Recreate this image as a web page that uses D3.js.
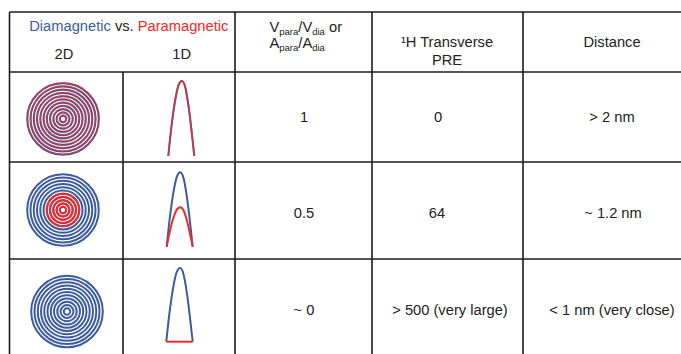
<!DOCTYPE html>
<html>
<head>
<meta charset="utf-8">
<script src="https://cdn.jsdelivr.net/npm/d3@7"></script>
<style>
  html, body { margin: 0; padding: 0; background: #fff; }
  svg { display: block; }
  text { font-family: "Liberation Sans", Arial, sans-serif; fill: #222; }
</style>
</head>
<body>
<script>
// ---------- data ----------
const ratioLabels    = ["1", "0.5", "~ 0"];
const preLabels      = ["0", "64", "> 500 (very large)"];
const distanceLabels = ["> 2 nm", "~ 1.2 nm", "< 1 nm (very close)"];
const paraIntensity  = [1, 0.53, 0];      // paramagnetic peak height relative to diamagnetic
const paraRings      = [11, 5, 0];        // how many inner rings show the paramagnetic (red) signal
const ringCount      = 11;
// 1D peak profile: [position, relative height]
const peakProfile = [[-1, 0], [-0.8, 0.33], [-0.6, 0.6], [-0.4, 0.81], [-0.2, 0.95], [0.05, 1],
                     [0.3, 0.92], [0.5, 0.73], [0.7, 0.47], [0.85, 0.24], [1, 0]];

// ---------- layout ----------
const W = 681, H = 354;
const blue = "#3d5c9e", red = "#ee2a2a", lineCol = "#1c1c1c";
const colX = [9.5, 123, 235, 372, 523];
const rowY = [12, 72, 162, 259];
const rowBottom = 362;
const circleCenters = [[63, 119], [63, 210], [67, 311.5]];
const peakBox = [ {x0: 168.3, x1: 194.3, base: 156, top: 81},
                  {x0: 166.7, x1: 192.7, base: 246.7, top: 172.3},
                  {x0: 166.3, x1: 192.7, base: 341.7, top: 268} ];
const valueY = [121.7, 217.5, 315];
const ratioX = [304, 304, 304];
const preX = [438, 437, 450];
const distX = [612, 613, 612];
const fs = 14.7;

const svg = d3.select("body").append("svg").attr("width", W).attr("height", H);

// ---------- grid ----------
const g = svg.append("g").attr("stroke", lineCol).attr("stroke-width", 1.6);
g.selectAll("line.h").data(rowY).join("line")
  .attr("x1", colX[0]).attr("x2", W).attr("y1", d => d).attr("y2", d => d);
g.append("line").attr("x1", colX[0]).attr("x2", colX[0]).attr("y1", rowY[0]).attr("y2", rowBottom);
g.append("line").attr("x1", colX[1]).attr("x2", colX[1]).attr("y1", rowY[1]).attr("y2", rowBottom);
g.selectAll("line.v").data(colX.slice(2)).join("line")
  .attr("x1", d => d).attr("x2", d => d).attr("y1", rowY[0]).attr("y2", rowBottom);

// ---------- header ----------
const t1 = svg.append("text").attr("x", 128.8).attr("y", 31).attr("text-anchor", "middle").attr("font-size", fs);
t1.append("tspan").style("fill", blue).text("Diamagnetic");
t1.append("tspan").text(" vs. ");
t1.append("tspan").style("fill", red).text("Paramagnetic");

svg.append("text").attr("x", 64).attr("y", 59).attr("text-anchor", "middle").attr("font-size", fs).text("2D");
svg.append("text").attr("x", 181.7).attr("y", 59).attr("text-anchor", "middle").attr("font-size", fs).text("1D");

function subLine(y, pieces) {
  const t = svg.append("text").attr("x", 269.5).attr("y", y).attr("font-size", fs);
  pieces.forEach(([s, sub]) => {
    if (sub) {
      t.append("tspan").attr("font-size", 9.5).attr("dy", 3).text(s);
    } else {
      t.append("tspan").attr("dy", t.selectAll("tspan").size() ? -3 : 0).text(s);
    }
  });
}
subLine(35.3, [["V"], ["para", 1], ["/V"], ["dia", 1], [" or"]]);
subLine(51.3, [["A"], ["para", 1], ["/A"], ["dia", 1]]);

svg.append("text").attr("x", 447).attr("y", 47).attr("text-anchor", "middle").attr("font-size", fs).text("¹H Transverse");
svg.append("text").attr("x", 447).attr("y", 65).attr("text-anchor", "middle").attr("font-size", fs).text("PRE");
svg.append("text").attr("x", 612).attr("y", 47).attr("text-anchor", "middle").attr("font-size", fs).text("Distance");

// ---------- value cells ----------
function cells(labels, xs) {
  svg.selectAll(null).data(labels).join("text")
    .attr("x", (d, i) => xs[i]).attr("y", (d, i) => valueY[i])
    .attr("text-anchor", "middle").attr("font-size", fs).text(d => d);
}
cells(ratioLabels, ratioX);
cells(preLabels, preX);
cells(distanceLabels, distX);

// ---------- 2D ring spectra ----------
const ringR = d3.scaleLinear().domain([1, ringCount]).range([3.2, 35.8]);
const rings = d3.range(1, ringCount + 1);
circleCenters.forEach(([cx, cy], i) => {
  const cg = svg.append("g").attr("fill", "none");
  cg.selectAll("circle.dia").data(rings).join("circle")
    .attr("cx", cx).attr("cy", cy).attr("r", d => ringR(d))
    .attr("stroke", blue).attr("stroke-width", 2.0);
  const redRings = rings.filter(d => d <= paraRings[i]);
  if (paraIntensity[i] >= 1) {
    cg.selectAll("circle.para").data(redRings).join("circle")
      .attr("cx", cx + 0.3).attr("cy", cy - 0.5).attr("r", d => ringR(d))
      .attr("stroke", red).attr("stroke-opacity", 0.65).attr("stroke-width", 1.4);
  } else {
    cg.selectAll("circle.para").data(redRings).join("circle")
      .attr("cx", cx).attr("cy", cy).attr("r", d => ringR(d))
      .attr("stroke", red).attr("stroke-width", 2.0);
  }
});

// ---------- 1D peaks ----------
peakBox.forEach((b, i) => {
  const x = d3.scaleLinear().domain([-1, 1]).range([b.x0, b.x1]);
  const y = d3.scaleLinear().domain([0, 1]).range([b.base, b.top]);
  const lineDia = d3.line().x(d => x(d[0])).y(d => y(d[1])).curve(d3.curveMonotoneX);
  const linePara = d3.line().x(d => x(d[0])).y(d => y(d[1] * paraIntensity[i])).curve(d3.curveMonotoneX);
  svg.append("path").attr("d", lineDia(peakProfile))
    .attr("fill", "none").attr("stroke", blue).attr("stroke-width", 2);
  svg.append("path").attr("d", linePara(peakProfile))
    .attr("fill", "none").attr("stroke", red).attr("stroke-width", paraIntensity[i] >= 1 ? 1.6 : 2)
    .attr("stroke-opacity", paraIntensity[i] >= 1 ? 0.85 : 1);
});
</script>
</body>
</html>
